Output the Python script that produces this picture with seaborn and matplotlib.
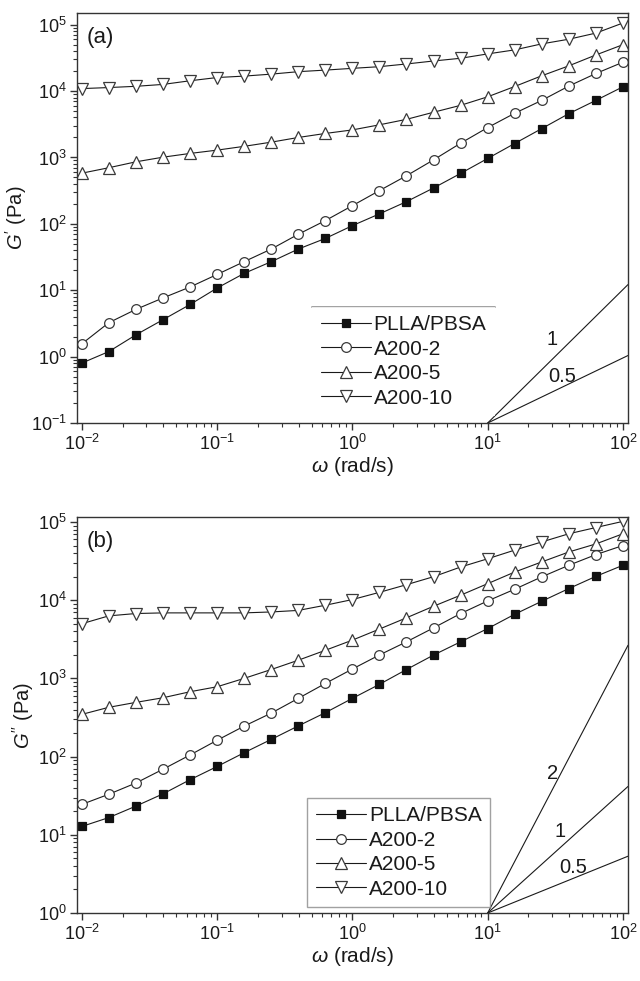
import matplotlib
matplotlib.use("Agg")
import matplotlib.pyplot as plt
import numpy as np
import seaborn as sns

# angular frequency (rad/s), five points per decade
omega = [0.01, 0.0158, 0.0251, 0.0398, 0.0631, 0.1, 0.158, 0.251, 0.398, 0.631,
         1.0, 1.58, 2.51, 3.98, 6.31, 10.0, 15.8, 25.1, 39.8, 63.1, 100.0]

series_names = ["PLLA/PBSA", "A200-2", "A200-5", "A200-10"]

# storage modulus G' (Pa)
g1_plla = [0.80, 1.19, 2.13, 3.6, 6.1, 10.8, 17.9, 26.9, 41.7, 60.3, 94,
           141, 216, 347, 575, 966, 1620, 2720, 4570, 7240, 11600]
g1_a2 = [1.56, 3.24, 5.15, 7.66, 11.2, 17.3, 26.9, 41.7, 69.7, 112, 188,
         316, 530, 920, 1640, 2820, 4620, 7240, 11900, 18400, 27200]
g1_a5 = [580, 700, 860, 1010, 1150, 1290, 1470, 1700, 2000, 2300, 2600,
         3100, 3750, 4800, 6100, 8200, 11700, 17000, 24000, 35000, 50000]
g1_a10 = [10900, 11300, 11800, 12600, 14300, 16000, 16800, 18000, 19600, 20700, 22000,
          23300, 25600, 28400, 31200, 36300, 41700, 51400, 60400, 74700, 106000]

# loss modulus G'' (Pa)
g2_plla = [12.8, 16.6, 23.3, 33.4, 50.7, 74.8, 112, 166, 247, 365, 556,
           838, 1300, 1990, 2940, 4340, 6600, 9700, 14100, 20200, 28000]
g2_a2 = [24.5, 33, 46, 69, 105, 162, 245, 360, 556, 863, 1320,
         1990, 2940, 4430, 6760, 9800, 13800, 19900, 28000, 38300, 50100]
g2_a5 = [347, 427, 494, 566, 676, 783, 1000, 1300, 1710, 2290, 3090,
         4270, 5960, 8380, 11600, 16300, 22900, 30900, 41400, 52500, 70800]
g2_a10 = [5010, 6310, 6760, 6890, 6890, 6890, 6890, 7080, 7410, 8630, 10200,
          12600, 15800, 20000, 26600, 33900, 43700, 55600, 70800, 85100, 102000]

# power-law guide lines starting at omega = 10: label, exponent, label position
guide_start = 10.0
guides_a_start_value = 0.1
guides_a_labels = ["1", "0.5"]
guides_a_exponents = [2.01, 0.98]
guides_a_text_x = [29.9, 35.5]
guides_a_text_y = [1.8, 0.494]

guides_b_start_value = 1.0
guides_b_labels = ["2", "1", "0.5"]
guides_b_exponents = [3.30, 1.56, 0.70]
guides_b_text_x = [30.4, 34.1, 42.9]
guides_b_text_y = [60.5, 10.9, 3.78]

sns.set_theme(style="ticks")
plt.rcParams.update({
    "font.family": ["Liberation Sans", "DejaVu Sans"],
    "mathtext.fontset": "custom",
    "mathtext.rm": "Liberation Sans",
    "mathtext.it": "Liberation Sans:italic",
    "mathtext.bf": "Liberation Sans:bold",
    "axes.edgecolor": "#333333",
    "axes.linewidth": 1.0,
    "xtick.color": "#333333",
    "ytick.color": "#333333",
    "xtick.labelcolor": "#1a1a1a",
    "ytick.labelcolor": "#1a1a1a",
    "text.color": "#1a1a1a",
    "axes.labelcolor": "#1a1a1a",
})

marker_styles = {
    "PLLA/PBSA": dict(marker="s", markersize=6.2, markerfacecolor="#111111",
                      markeredgecolor="#111111"),
    "A200-2": dict(marker="o", markersize=7.0, markerfacecolor="white",
                   markeredgecolor="#3a3a3a"),
    "A200-5": dict(marker="^", markersize=8.0, markerfacecolor="white",
                   markeredgecolor="#3a3a3a"),
    "A200-10": dict(marker="v", markersize=8.0, markerfacecolor="white",
                    markeredgecolor="#3a3a3a"),
}

fig = plt.figure(figsize=(6.4, 9.81), dpi=100)
ax_a = fig.add_axes([77 / 640, 1 - 423 / 981, 551 / 640, 410 / 981])
ax_b = fig.add_axes([77 / 640, 1 - 913 / 981, 551 / 640, 396 / 981])

panels = [
    (ax_a, [g1_plla, g1_a2, g1_a5, g1_a10], (0.1, 1.5e5), r"$G'$ (Pa)", "(a)",
     guides_a_start_value, guides_a_labels, guides_a_exponents, guides_a_text_x, guides_a_text_y),
    (ax_b, [g2_plla, g2_a2, g2_a5, g2_a10], (1.0, 1.16e5), r"$G''$ (Pa)", "(b)",
     guides_b_start_value, guides_b_labels, guides_b_exponents, guides_b_text_x, guides_b_text_y),
]

x_limits = (0.0092, 109)
legends = []
for ax, series, ylim, ylabel, tag, g0, glabels, gexps, gtx, gty in panels:
    for name, values in zip(series_names, series):
        sns.lineplot(x=omega, y=values, ax=ax, color="#1a1a1a", linewidth=0.8,
                     markeredgewidth=0.9, label=name, sort=False,
                     **marker_styles[name])
    ax.set_xscale("log")
    ax.set_yscale("log")
    ax.set_xlim(*x_limits)
    ax.set_ylim(*ylim)

    # guide lines with their slope labels
    w = np.array([guide_start, x_limits[1]])
    for lab, k, tx, ty in zip(glabels, gexps, gtx, gty):
        ax.plot(w, g0 * (w / guide_start) ** k, color="#1a1a1a", linewidth=0.8)
        ax.text(tx, ty, lab, fontsize=14.5, ha="center", va="center")

    ax.set_xlabel(r"$\omega$ (rad/s)", fontsize=15, labelpad=1)
    ax.set_ylabel(ylabel, fontsize=14.5, labelpad=1)
    ax.text(0.018, 0.965, tag, transform=ax.transAxes, fontsize=16,
            ha="left", va="top")

    ax.tick_params(which="major", direction="out", length=5, width=1.0,
                   labelsize=13, pad=2.5, top=False, right=False)
    ax.tick_params(which="minor", direction="out", length=3, width=0.8,
                   top=False, right=False)
    ax.xaxis.set_minor_locator(matplotlib.ticker.LogLocator(base=10, subs=np.arange(2, 10), numticks=20))
    ax.yaxis.set_minor_locator(matplotlib.ticker.LogLocator(base=10, subs=np.arange(2, 10), numticks=20))
    ax.xaxis.set_major_locator(matplotlib.ticker.LogLocator(base=10, numticks=20))
    ax.yaxis.set_major_locator(matplotlib.ticker.LogLocator(base=10, numticks=20))
    for side in ("top", "right", "left", "bottom"):
        ax.spines[side].set_visible(True)

    leg = ax.legend(loc="upper left",
                    bbox_to_anchor=(0.427 if ax is ax_a else 0.418,
                                    0.283 if ax is ax_a else 0.290),
                    fontsize=15, frameon=True, fancybox=False,
                    handlelength=2.4, handletextpad=0.15, labelspacing=0.26,
                    borderpad=0.4, borderaxespad=0.0)
    leg.get_frame().set_linewidth(1.0)
    legends.append(leg)

# panel (b) legend has a full grey frame; panel (a) only keeps the top rule
legends[1].get_frame().set_edgecolor("#8a8a8a")
legends[0].get_frame().set_edgecolor("none")
fig.canvas.draw()
bb = legends[0].get_frame().get_window_extent().transformed(ax_a.transAxes.inverted())
ax_a.plot([bb.x0, bb.x1], [bb.y1, bb.y1], transform=ax_a.transAxes,
          color="#9a9a9a", linewidth=1.3, clip_on=False)

fig.savefig("out.png", dpi=100)
